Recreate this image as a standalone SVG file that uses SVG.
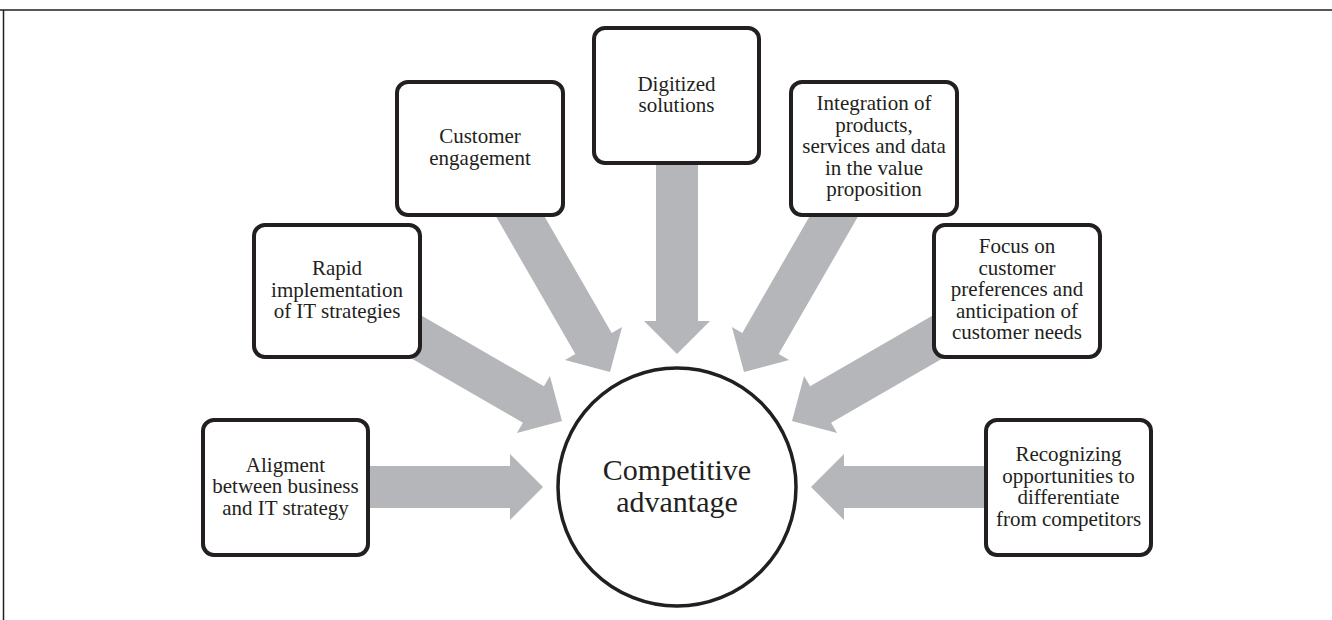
<svg xmlns="http://www.w3.org/2000/svg" width="1332" height="620" viewBox="0 0 1332 620">
<style>
.box{fill:#fff;stroke:#231f20;stroke-width:4}
.arrow{fill:#b5b6b9;stroke:none}
.t{font-family:"Liberation Serif","Times New Roman",serif;font-size:21px;fill:#231f20;text-anchor:middle}
.big{font-family:"Liberation Serif","Times New Roman",serif;font-size:30px;fill:#231f20;text-anchor:middle}
.frame{stroke:#231f20;stroke-width:1.5;fill:none}
</style>
<rect width="1332" height="620" fill="#fff"/>
<path class="frame" d="M0 10 H1332 M3.5 10 V620"/>
<g id="connectors">
<polygon class="arrow" points="360,466 510,466 510,454 543,487 510,520 510,508 360,508"/>
<polygon class="arrow" points="994,466 844,466 844,454 811,487 844,520 844,508 994,508"/>
<polygon class="arrow" points="656,155 656,321 644,321 677,354 710,321 698,321 698,155"/>
<polygon class="arrow" points="531.7,194.3 611.7,332.9 622.1,326.9 610,372 564.9,359.9 575.3,353.9 495.3,215.3"/>
<polygon class="arrow" points="822.3,194.3 742.3,332.9 731.9,326.9 744,372 789.1,359.9 778.7,353.9 858.7,215.3"/>
<polygon class="arrow" points="414,311.3 543.9,386.3 549.9,375.9 562,421 516.9,433.1 522.9,422.7 393,347.7"/>
<polygon class="arrow" points="940,311.3 810.1,386.3 804.1,375.9 792,421 837.1,433.1 831.1,422.7 961,347.7"/>
</g>
<g id="node-alignment">
<rect class="box" x="203" y="420" width="165" height="135" rx="11"/>
<text class="t" x="285.5" y="471.5">Aligment</text>
<text class="t" x="285.5" y="493">between business</text>
<text class="t" x="285.5" y="514.5">and IT strategy</text>
</g>
<g id="node-rapid">
<rect class="box" x="254" y="225" width="166" height="132" rx="11"/>
<text class="t" x="337" y="275">Rapid</text>
<text class="t" x="337" y="296.5">implementation</text>
<text class="t" x="337" y="318">of IT strategies</text>
</g>
<g id="node-customer">
<rect class="box" x="397" y="82" width="166" height="133" rx="11"/>
<text class="t" x="480" y="143">Customer</text>
<text class="t" x="480" y="164.5">engagement</text>
</g>
<g id="node-digitized">
<rect class="box" x="594" y="28" width="165" height="135" rx="11"/>
<text class="t" x="676.5" y="90.5">Digitized</text>
<text class="t" x="676.5" y="112">solutions</text>
</g>
<g id="node-integration">
<rect class="box" x="791" y="82" width="166" height="133" rx="11"/>
<text class="t" x="874" y="110">Integration of</text>
<text class="t" x="874" y="131.5">products,</text>
<text class="t" x="874" y="153">services and data</text>
<text class="t" x="874" y="174.5">in the value</text>
<text class="t" x="874" y="196">proposition</text>
</g>
<g id="node-focus">
<rect class="box" x="934" y="225" width="166" height="132" rx="11"/>
<text class="t" x="1017" y="253">Focus on</text>
<text class="t" x="1017" y="274.5">customer</text>
<text class="t" x="1017" y="296">preferences and</text>
<text class="t" x="1017" y="317.5">anticipation of</text>
<text class="t" x="1017" y="339">customer needs</text>
</g>
<g id="node-recognizing">
<rect class="box" x="986" y="420" width="165" height="135" rx="11"/>
<text class="t" x="1068.5" y="461">Recognizing</text>
<text class="t" x="1068.5" y="482.5">opportunities to</text>
<text class="t" x="1068.5" y="504">differentiate</text>
<text class="t" x="1068.5" y="525.5">from competitors</text>
</g>
<g id="node-competitive">
<circle cx="677" cy="487" r="119" fill="#fff" stroke="#231f20" stroke-width="3.5"/>
<text class="big" x="677" y="480">Competitive</text>
<text class="big" x="677" y="512">advantage</text>
</g>
</svg>
